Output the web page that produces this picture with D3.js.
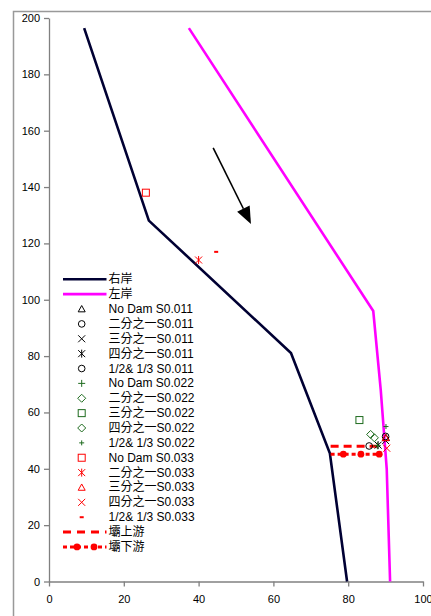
<!DOCTYPE html>
<html>
<head>
<meta charset="utf-8">
<script src="https://cdn.jsdelivr.net/npm/d3@7"></script>
<style>
  html, body { margin: 0; padding: 0; background: #fff; }
  svg { display: block; }
</style>
</head>
<body>
<div id="chart"></div>
<script>
// ---- data (x = distance, y = station) ------------------------------------
const rightBank = [[9.4, 196.4], [26.7, 128.1], [64.7, 81.1], [75.1, 45.5], [79.7, 0]];
const leftBank = [[37.4, 196.4], [86.7, 96.0], [88.7, 68.0], [90.3, 40.0], [91.2, 0]];
const damUp = [[75.3, 48.0], [88.0, 48.0]];
const damDown = [[75.3, 45.2], [78.7, 45.2], [83.4, 45.2], [88.3, 45.2]];
const flowArrow = [[43.9, 153.9], [54.0, 126.9]];

const seriesNames = [
  "No Dam S0.011", "二分之一S0.011", "三分之一S0.011", "四分之一S0.011", "1/2& 1/3 S0.011",
  "No Dam S0.022", "二分之一S0.022", "三分之一S0.022", "四分之一S0.022", "1/2& 1/3 S0.022",
  "No Dam S0.033", "二分之一S0.033", "三分之一S0.033", "四分之一S0.033", "1/2& 1/3 S0.033"
];
const seriesShapes = [
  "triangle", "circle", "x", "asterisk", "circle",
  "plus", "diamond", "square", "diamond", "smallplus",
  "square", "asterisk", "triangle", "x", "dash"
];
const seriesGroup = [0, 0, 0, 0, 0, 1, 1, 1, 1, 1, 2, 2, 2, 2, 2];
const seriesX = [90.1, 85.6, 90.0, 88.0, 90.0, 87.8, 86.0, 83.0, 87.0, 90.1, 25.9, 40.0, 90.0, 90.3, 44.7];
const seriesY = [51.0, 48.1, 50.0, 48.4, 51.5, 48.2, 52.2, 57.3, 51.0, 55.0, 138.0, 114.1, 51.0, 47.3, 117.0];

const xTicks = [0, 20, 40, 60, 80, 100];
const yTicks = [0, 20, 40, 60, 80, 100, 120, 140, 160, 180, 200];

// ---- layout ---------------------------------------------------------------
const W = 431, H = 616;
const GROUP_COL = ["#000000", "#1e6b1e", "#ff0000"];
const FONT = "11px 'Liberation Sans', 'Noto Sans CJK TC', sans-serif";
const LEG_FONT = "12px 'Liberation Sans', 'Noto Sans CJK TC', sans-serif";
const AXIS_COL = "#808080";

const x = d3.scaleLinear().domain([0, 100]).range([49, 423]);
const y = d3.scaleLinear().domain([0, 200]).range([581.5, 18]);

const svg = d3.select("#chart").append("svg").attr("width", W).attr("height", H);

// outer chart frame
svg.append("path")
  .attr("d", `M13.5,${H} V11.5 H${W}`)
  .attr("fill", "none").attr("stroke", "#999").attr("stroke-width", 1.5);

// ---- axes -----------------------------------------------------------------
const yAxis = svg.append("g").attr("transform", `translate(${x(0)},0)`)
  .call(d3.axisLeft(y).tickValues(yTicks).tickSize(5).tickSizeOuter(0).tickPadding(4));
const xAxis = svg.append("g").attr("transform", `translate(0,${y(0)})`)
  .call(d3.axisBottom(x).tickValues(xTicks).tickSize(5).tickSizeOuter(0).tickPadding(9));
[yAxis, xAxis].forEach((a) => {
  a.selectAll("path,line").attr("stroke", AXIS_COL).attr("stroke-width", 1.3);
  a.selectAll("text").attr("fill", "#000").style("font", FONT);
});

// ---- bank lines -----------------------------------------------------------
const line = d3.line().x((d) => x(d[0])).y((d) => y(d[1]));
svg.append("path").attr("d", line(rightBank)).attr("fill", "none")
  .attr("stroke", "#000033").attr("stroke-width", 2.6).attr("stroke-linejoin", "miter");
svg.append("path").attr("d", line(leftBank)).attr("fill", "none")
  .attr("stroke", "#ff00ff").attr("stroke-width", 2.6);

// ---- dam lines ------------------------------------------------------------
svg.append("path").attr("d", line(damUp)).attr("fill", "none")
  .attr("stroke", "#ff0000").attr("stroke-width", 3).attr("stroke-dasharray", "8,5");
svg.append("path").attr("d", line(damDown)).attr("fill", "none")
  .attr("stroke", "#ff0000").attr("stroke-width", 3).attr("stroke-dasharray", "4,3");
svg.append("g").selectAll("circle").data(damDown.slice(1)).join("circle")
  .attr("cx", (d) => x(d[0])).attr("cy", (d) => y(d[1])).attr("r", 3.4).attr("fill", "#ff0000");

// ---- marker shapes ----------------------------------------------------------
function drawMarker(g, shape, cx, cy, col) {
  const s = 3.5;
  const st = (el) => el.attr("fill", "none").attr("stroke", col).attr("stroke-width", 1);
  if (shape === "triangle") {
    st(g.append("path").attr("d", `M${cx},${cy - s} L${cx + s},${cy + s * 0.8} L${cx - s},${cy + s * 0.8} Z`));
  } else if (shape === "circle") {
    st(g.append("circle").attr("cx", cx).attr("cy", cy).attr("r", s * 0.95));
  } else if (shape === "square") {
    st(g.append("rect").attr("x", cx - s).attr("y", cy - s).attr("width", 2 * s).attr("height", 2 * s));
  } else if (shape === "diamond") {
    st(g.append("path").attr("d", `M${cx},${cy - s - 0.5} L${cx + s + 0.5},${cy} L${cx},${cy + s + 0.5} L${cx - s - 0.5},${cy} Z`));
  } else if (shape === "x") {
    st(g.append("path").attr("d", `M${cx - s},${cy - s} L${cx + s},${cy + s} M${cx + s},${cy - s} L${cx - s},${cy + s}`));
  } else if (shape === "asterisk") {
    st(g.append("path").attr("d", `M${cx - s},${cy - s} L${cx + s},${cy + s} M${cx + s},${cy - s} L${cx - s},${cy + s} M${cx},${cy - s - 0.5} L${cx},${cy + s + 0.5}`));
  } else if (shape === "plus") {
    st(g.append("path").attr("d", `M${cx - s},${cy} L${cx + s},${cy} M${cx},${cy - s} L${cx},${cy + s}`));
  } else if (shape === "smallplus") {
    st(g.append("path").attr("d", `M${cx - 2.5},${cy} L${cx + 2.5},${cy} M${cx},${cy - 2.5} L${cx},${cy + 2.5}`));
  } else if (shape === "dash") {
    g.append("rect").attr("x", cx - 2).attr("y", cy - 1).attr("width", 4).attr("height", 2).attr("fill", col);
  }
}

const pts = svg.append("g");
seriesNames.forEach((n, i) => {
  drawMarker(pts, seriesShapes[i], x(seriesX[i]), y(seriesY[i]), GROUP_COL[seriesGroup[i]]);
});

// ---- flow arrow -------------------------------------------------------------
{
  const [a, b] = flowArrow.map((p) => [x(p[0]), y(p[1])]);
  const dx = b[0] - a[0], dy = b[1] - a[1], len = Math.hypot(dx, dy);
  const ux = dx / len, uy = dy / len, HL = 17, HW = 7;
  const base = [b[0] - ux * HL, b[1] - uy * HL];
  svg.append("line").attr("x1", a[0]).attr("y1", a[1]).attr("x2", base[0]).attr("y2", base[1])
    .attr("stroke", "#000").attr("stroke-width", 1.6);
  svg.append("path")
    .attr("d", `M${b[0]},${b[1]} L${base[0] - uy * HW},${base[1] + ux * HW} L${base[0] + uy * HW},${base[1] - ux * HW} Z`)
    .attr("fill", "#000");
}

// ---- legend -----------------------------------------------------------------
const LEG_Y = 279.3, LEG_STEP = 14.87, LX0 = 63, LX1 = 106.5, LMK = 81.7, LTX = 108.5;
const legend = svg.append("g");
const legRows = [
  { name: "右岸", type: "line", col: "#000033" },
  { name: "左岸", type: "line", col: "#ff00ff" },
  ...seriesNames.map((n, i) => ({ name: n, type: "marker", shape: seriesShapes[i], col: GROUP_COL[seriesGroup[i]] })),
  { name: "壩上游", type: "dash" },
  { name: "壩下游", type: "dot" }
];
legRows.forEach((r, i) => {
  const ly = LEG_Y + i * LEG_STEP;
  if (r.type === "line") {
    legend.append("line").attr("x1", LX0).attr("x2", LX1).attr("y1", ly).attr("y2", ly)
      .attr("stroke", r.col).attr("stroke-width", 2.6);
  } else if (r.type === "dash") {
    legend.append("line").attr("x1", LX0).attr("x2", LX1).attr("y1", ly).attr("y2", ly)
      .attr("stroke", "#ff0000").attr("stroke-width", 3).attr("stroke-dasharray", "8,6");
  } else if (r.type === "dot") {
    legend.append("line").attr("x1", LX0).attr("x2", LX1).attr("y1", ly).attr("y2", ly)
      .attr("stroke", "#ff0000").attr("stroke-width", 3).attr("stroke-dasharray", "4,3");
    [LX0 + 14, LX0 + 31].forEach((cx) =>
      legend.append("circle").attr("cx", cx).attr("cy", ly).attr("r", 3.4).attr("fill", "#ff0000"));
  } else {
    drawMarker(legend, r.shape, LMK, ly, r.col);
  }
  legend.append("text").attr("x", LTX).attr("y", ly).attr("dominant-baseline", "central")
    .attr("fill", "#000").style("font", LEG_FONT).text(r.name);
});
</script>
</body>
</html>
